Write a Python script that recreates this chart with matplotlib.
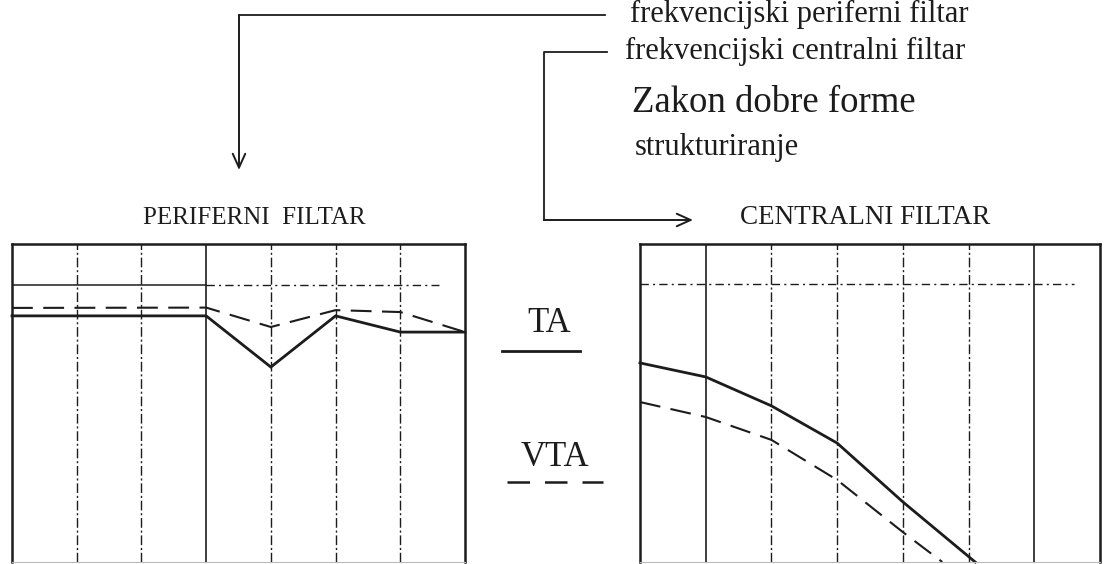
import matplotlib
matplotlib.use('Agg')
import matplotlib.pyplot as plt

plt.rcParams['font.family'] = ['Liberation Serif', 'DejaVu Serif']

# column boundaries (7 equal frequency bands) and levels (0 = bottom, 100 = top)
left_x = [0, 3, 4, 5, 6, 7]
left_ta = [77.4, 77.4, 61.3, 77.4, 72.3, 72.3]
left_vta = [79.9, 80.0, 73.9, 79.2, 78.6, 72.3]
left_ref = 87.1

right_ta_x = [0, 1, 2, 3, 4, 5.1]
right_ta = [62.6, 58.2, 49.1, 37.4, 18.9, 0.0]
right_vta_x = [0, 1, 2, 3, 4, 4.6]
right_vta = [50.3, 45.6, 38.4, 25.8, 9.4, 0.0]
right_ref = 87.4

grid_cols = [1, 2, 3, 4, 5, 6]
left_solid_cols = [3]
right_solid_cols = [1, 6]

ink = '#1c1c1c'
W, H = 1106, 564
fig = plt.figure(figsize=(W / 100, H / 100), dpi=100)
fig.patch.set_facecolor('white')

# overlay in pixel coordinates for text and connectors
ov = fig.add_axes([0, 0, 1, 1])
ov.set_xlim(0, W)
ov.set_ylim(H, 0)
ov.axis('off')


def panel(rect, solid_cols, ref, ref_solid_to, ta_x, ta, vta_x, vta):
    ax = fig.add_axes(rect)
    ax.set_xlim(0, 7)
    ax.set_ylim(0, 100)
    ax.set_xticks([])
    ax.set_yticks([])
    for side in ['top', 'left', 'right']:
        ax.spines[side].set_linewidth(1.8)
        ax.spines[side].set_color(ink)
    ax.spines['bottom'].set_linewidth(0.8)
    ax.spines['bottom'].set_color('#bbbbbb')
    for c in grid_cols:
        if c in solid_cols:
            ax.axvline(c, color=ink, lw=1.2)
        else:
            ax.axvline(c, color=ink, lw=1.0, dashes=(7, 2, 1.5, 2))
    if ref_solid_to > 0:
        ax.plot([0, ref_solid_to], [ref, ref], color=ink, lw=1.1)
    ax.plot([ref_solid_to, 6.6], [ref, ref], color=ink, lw=1.0,
            dashes=(6, 3, 1.5, 3))
    ax.plot(ta_x, ta, color=ink, lw=2.0, solid_joinstyle='miter', clip_on=False)
    ax.plot(vta_x, vta, color=ink, lw=1.5, dashes=(10, 5), clip_on=False)
    return ax


panel([12 / W, 2 / H, 453 / W, 318 / H], left_solid_cols, left_ref, 3,
      left_x, left_ta, left_x, left_vta)
panel([640 / W, 2 / H, 460 / W, 318 / H], right_solid_cols, right_ref, 0,
      right_ta_x, right_ta, right_vta_x, right_vta)

# titles
ov.text(143, 218, 'PERIFERNI  FILTAR', fontsize=18, ha='left', va='center', color=ink)
ov.text(740, 218, 'CENTRALNI FILTAR', fontsize=19.5, ha='left', va='center', color=ink)

# upper labels
ov.text(630, 14, 'frekvencijski periferni filtar', fontsize=22, ha='left', va='center', color=ink)
ov.text(625, 51, 'frekvencijski centralni filtar', fontsize=22, ha='left', va='center', color=ink)
ov.text(632, 103, 'Zakon dobre forme', fontsize=26.5, ha='left', va='center', color=ink)
ov.text(635, 147, 'strukturiranje', fontsize=22, ha='left', va='center', color=ink)

# legend in the middle
ov.text(549, 324, 'TA', fontsize=25, ha='center', va='center', color=ink)
ov.plot([502, 580], [351, 351], color=ink, lw=2.0)
ov.text(555, 457, 'VTA', fontsize=25, ha='center', va='center', color=ink)
ov.plot([507, 603], [482, 482], color=ink, lw=1.8, dashes=(9, 6))

# connectors
head = '->,head_length=1.0,head_width=0.45'
ov.plot([239, 605], [15, 15], color=ink, lw=1.3)
ov.annotate('', xy=(239, 170), xytext=(239, 15),
            arrowprops=dict(arrowstyle=head, color=ink, lw=1.4,
                            shrinkA=0, shrinkB=0))
ov.plot([607, 544, 544], [52, 52, 220], color=ink, lw=1.3)
ov.annotate('', xy=(693, 220), xytext=(544, 220),
            arrowprops=dict(arrowstyle=head, color=ink, lw=1.4,
                            shrinkA=0, shrinkB=0))

plt.savefig('out.png', dpi=100, facecolor='white')
